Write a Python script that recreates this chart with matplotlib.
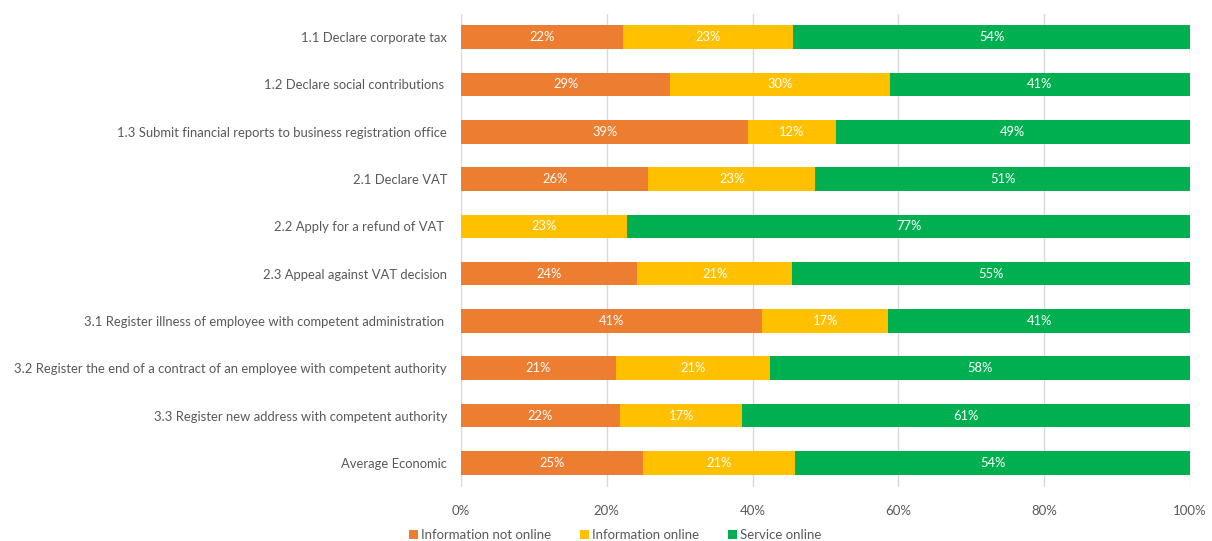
import matplotlib
matplotlib.use("Agg")
import matplotlib.pyplot as plt
from matplotlib.patches import Patch
from matplotlib.ticker import FuncFormatter

categories = [
    "1.1 Declare corporate tax",
    "1.2 Declare social contributions ",
    "1.3 Submit financial reports to business registration office",
    "2.1 Declare VAT",
    "2.2 Apply for a refund of VAT ",
    "2.3 Appeal against VAT decision",
    "3.1 Register illness of employee with competent administration ",
    "3.2 Register the end of a contract of an employee with competent authority",
    "3.3 Register new address with competent authority",
    "Average Economic",
]
info_not_online = [22.2, 28.7, 39.4, 25.7, 0.0, 24.2, 41.3, 21.2, 21.8, 24.9]
info_online = [23.4, 30.1, 12.0, 22.9, 22.8, 21.2, 17.3, 21.2, 16.8, 20.9]
service_online = [54.4, 41.2, 48.6, 51.4, 77.2, 54.6, 41.4, 57.6, 61.4, 54.2]

series_names = ["Information not online", "Information online", "Service online"]
series_colors = ["#ED7D31", "#FFC000", "#00B050"]
x_ticks = [0, 20, 40, 60, 80, 100]

plt.rcParams["font.family"] = ["Lato", "DejaVu Sans"]
text_grey = "#595959"

fig = plt.figure(figsize=(12.12, 5.41), dpi=100)
ax = fig.add_axes([461 / 1212, 1 - 486.5 / 541, (1190 - 461) / 1212, 473 / 541])

positions = list(range(len(categories)))
left = [0.0] * len(categories)
for values, name, color in zip([info_not_online, info_online, service_online],
                               series_names, series_colors):
    bars = ax.barh(positions, values, left=left, height=0.5, color=color,
                   label=name, zorder=3)
    for bar, v in zip(bars, values):
        if v > 0:
            ax.text(bar.get_x() + bar.get_width() / 2,
                    bar.get_y() + bar.get_height() / 2,
                    f"{v:.0f}%", ha="center", va="center",
                    color="white", fontsize=9.3, zorder=4)
    left = [l + v for l, v in zip(left, values)]

ax.set_xlim(0, 100)
ax.set_ylim(len(categories) - 0.5, -0.5)
ax.set_yticks(positions)
ax.set_yticklabels(categories, fontsize=9.4, color=text_grey)
ax.set_xticks(x_ticks)
ax.xaxis.set_major_formatter(FuncFormatter(lambda v, _: f"{v:.0f}%"))
ax.tick_params(axis="x", labelsize=9.5, labelcolor=text_grey, length=0, pad=13)
ax.tick_params(axis="y", length=0, pad=10)
ax.grid(axis="x", color="#D9D9D9", linewidth=1, zorder=0)
for spine in ax.spines.values():
    spine.set_visible(False)

handles = [Patch(facecolor=c, edgecolor="none", label=n)
           for n, c in zip(series_names, series_colors)]
fig.legend(handles=handles, loc="center",
           bbox_to_anchor=(615 / 1212, 1 - 535 / 541), ncol=3, frameon=False,
           fontsize=9.5, labelcolor=text_grey, handlelength=0.7,
           handleheight=0.7, handletextpad=0.2, columnspacing=2.2)

fig.savefig("out.png", dpi=100)
